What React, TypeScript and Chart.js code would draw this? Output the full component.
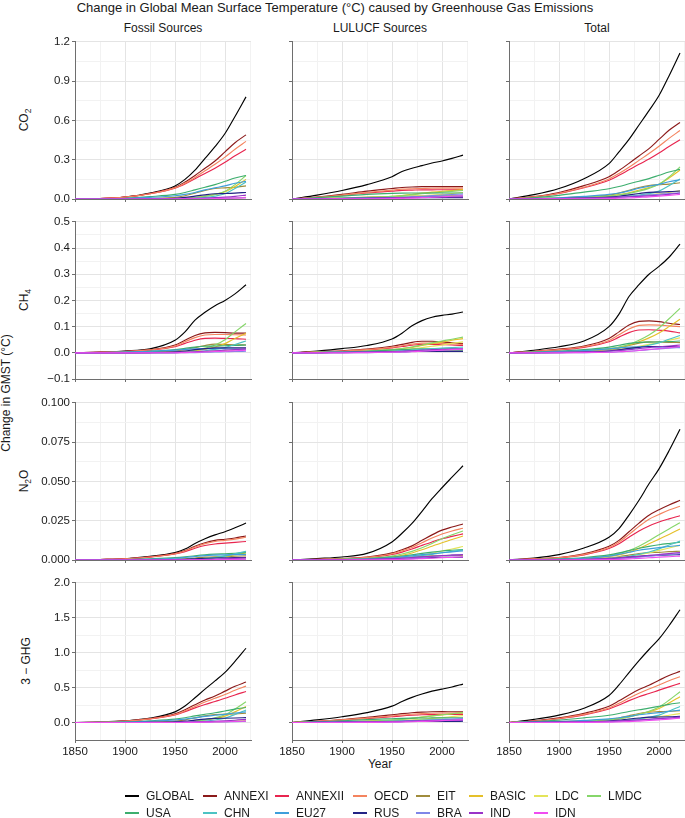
import React, { useEffect, useRef } from 'react';
import { Chart, registerables } from 'chart.js';

Chart.register(...registerables);

const FONT = '"Liberation Sans", Arial, Helvetica, sans-serif';

const YEARS = [1850, 1875, 1900, 1925, 1950, 1960, 1970, 1980, 1990, 2000, 2010, 2021];

const SERIES = ['GLOBAL', 'ANNEXI', 'ANNEXII', 'OECD', 'EIT', 'BASIC', 'LDC', 'LMDC', 'USA', 'CHN', 'EU27', 'RUS', 'BRA', 'IND', 'IDN'];
const COLORS = ['#000000', '#8B1A1A', '#E8254F', '#F4845F', '#A08C3C', '#E5C02A', '#E4E45A', '#86D66A', '#3DAE6E', '#4CC3C3', '#3E9FDB', '#232385', '#7F86E8', '#9A33C8', '#F04CF0'];

const COLUMN_TITLES = ['Fossil Sources', 'LULUCF Sources', 'Total'];

const X_MAJOR = [1850, 1900, 1950, 2000];
const X_MINOR = [1875, 1925, 1975, 2025];

const CO2_Y_MAJOR = [0, 0.3, 0.6, 0.9, 1.2];
const CO2_Y_MINOR = [0.15, 0.45, 0.75, 1.05];
const CH4_Y_MAJOR = [-0.1, 0, 0.1, 0.2, 0.3, 0.4, 0.5];
const CH4_Y_MINOR = [-0.05, 0.05, 0.15, 0.25, 0.35, 0.45];
const N2O_Y_MAJOR = [0, 0.025, 0.05, 0.075, 0.1];
const N2O_Y_MINOR = [0.0125, 0.0375, 0.0625, 0.0875];
const GHG_Y_MAJOR = [0, 0.5, 1, 1.5, 2];
const GHG_Y_MINOR = [-0.25, 0.25, 0.75, 1.25, 1.75];

// rows follow SERIES order
const CO2_FOSSIL = [
  [0, .003, .015, .045, .10, .15, .22, .31, .40, .50, .63, .78],
  [0, .003, .015, .042, .09, .13, .18, .235, .29, .36, .43, .49],
  [0, .003, .014, .04, .083, .115, .155, .195, .235, .28, .33, .38],
  [0, .003, .014, .04, .085, .12, .165, .215, .265, .32, .38, .44],
  [0, 0, .001, .004, .012, .025, .045, .065, .08, .085, .09, .10],
  [0, 0, 0, .001, .003, .006, .012, .022, .035, .055, .095, .15],
  [0, 0, 0, 0, 0, 0, .001, .002, .003, .005, .008, .012],
  [0, 0, 0, .001, .002, .005, .01, .02, .035, .06, .11, .18],
  [0, .001, .006, .018, .035, .05, .07, .09, .11, .135, .16, .18],
  [0, 0, 0, 0, .001, .003, .006, .012, .022, .04, .08, .13],
  [0, .001, .004, .012, .025, .035, .05, .07, .085, .10, .12, .135],
  [0, 0, 0, .002, .006, .012, .022, .032, .04, .042, .045, .05],
  [0, 0, 0, 0, .001, .001, .002, .003, .005, .006, .008, .01],
  [0, 0, 0, .001, .002, .003, .005, .007, .01, .014, .02, .03],
  [0, 0, 0, 0, 0, .001, .001, .002, .003, .005, .007, .01],
];
const CO2_LULUCF = [
  [0, .03, .065, .11, .17, .21, .235, .255, .275, .29, .31, .335],
  [0, .015, .035, .06, .08, .088, .092, .094, .095, .095, .095, .095],
  [0, .012, .028, .046, .06, .066, .068, .07, .07, .071, .071, .072],
  [0, .013, .03, .05, .068, .075, .078, .08, .082, .083, .083, .083],
  [0, .003, .007, .012, .018, .02, .022, .023, .023, .024, .024, .024],
  [0, .004, .008, .013, .02, .027, .035, .045, .052, .058, .065, .072],
  [0, .002, .004, .007, .011, .015, .02, .025, .03, .035, .042, .05],
  [0, .004, .008, .013, .02, .026, .033, .04, .046, .052, .058, .065],
  [0, .01, .022, .035, .043, .045, .046, .046, .046, .046, .046, .046],
  [0, .002, .005, .008, .012, .014, .016, .018, .019, .02, .021, .022],
  [0, .002, .005, .008, .01, .011, .012, .012, .012, .012, .012, .012],
  [0, .002, .004, .006, .008, .009, .01, .01, .011, .011, .011, .011],
  [0, .001, .002, .004, .007, .011, .016, .021, .026, .03, .034, .037],
  [0, .002, .004, .006, .009, .011, .012, .013, .014, .015, .015, .016],
  [0, 0, .001, .002, .003, .005, .007, .01, .013, .017, .021, .025],
];
const CO2_TOTAL = [
  [0, .033, .08, .155, .27, .36, .455, .565, .675, .79, .94, 1.115],
  [0, .018, .05, .102, .17, .218, .272, .329, .385, .455, .525, .585],
  [0, .015, .042, .086, .143, .181, .223, .265, .305, .351, .401, .452],
  [0, .016, .044, .09, .153, .195, .243, .295, .347, .403, .463, .523],
  [0, .003, .008, .016, .03, .045, .067, .088, .103, .109, .114, .124],
  [0, .004, .008, .014, .023, .033, .047, .067, .087, .113, .16, .222],
  [0, .002, .004, .007, .011, .015, .021, .027, .033, .04, .05, .062],
  [0, .004, .008, .014, .022, .031, .043, .06, .081, .112, .168, .245],
  [0, .011, .028, .053, .078, .095, .116, .136, .156, .181, .206, .226],
  [0, .002, .005, .008, .013, .017, .022, .03, .041, .06, .101, .152],
  [0, .003, .009, .02, .035, .046, .062, .082, .097, .112, .132, .147],
  [0, .002, .004, .008, .014, .021, .032, .042, .051, .053, .056, .061],
  [0, .001, .002, .004, .008, .012, .018, .024, .031, .036, .042, .047],
  [0, .002, .004, .007, .011, .014, .017, .02, .024, .029, .035, .046],
  [0, 0, .001, .002, .003, .006, .008, .012, .016, .022, .028, .035],
];

const CH4_FOSSIL = [
  [0, .003, .007, .015, .048, .08, .125, .155, .18, .2, .225, .26],
  [0, .002, .006, .012, .03, .048, .066, .076, .078, .077, .075, .075],
  [0, .002, .005, .01, .023, .036, .048, .055, .056, .055, .054, .052],
  [0, .002, .005, .011, .026, .042, .058, .068, .07, .07, .069, .068],
  [0, 0, .001, .003, .007, .012, .02, .028, .033, .032, .031, .03],
  [0, 0, 0, .001, .003, .005, .008, .014, .022, .035, .055, .075],
  [0, 0, 0, 0, .001, .002, .003, .005, .007, .009, .012, .015],
  [0, 0, .001, .002, .004, .006, .01, .018, .03, .05, .08, .112],
  [0, .001, .003, .006, .012, .017, .022, .025, .026, .027, .028, .03],
  [0, 0, 0, 0, .001, .002, .004, .008, .013, .02, .032, .045],
  [0, .001, .003, .006, .01, .013, .015, .016, .016, .015, .014, .013],
  [0, 0, 0, .001, .004, .007, .012, .016, .019, .019, .019, .019],
  [0, 0, 0, 0, 0, .001, .001, .002, .003, .004, .005, .006],
  [0, 0, 0, .001, .002, .003, .004, .006, .008, .01, .012, .015],
  [0, 0, 0, 0, 0, .001, .002, .003, .005, .006, .008, .01],
];
const CH4_LULUCF = [
  [0, .007, .016, .028, .053, .075, .103, .123, .136, .143, .148, .156],
  [0, .004, .008, .014, .025, .032, .04, .044, .044, .042, .038, .035],
  [0, .003, .006, .011, .019, .024, .029, .032, .032, .031, .03, .028],
  [0, .003, .007, .012, .021, .027, .033, .037, .037, .036, .034, .032],
  [0, .001, .002, .003, .005, .006, .008, .009, .009, .009, .009, .009],
  [0, .002, .004, .007, .012, .016, .021, .028, .035, .041, .048, .054],
  [0, .002, .003, .005, .008, .011, .015, .02, .025, .03, .036, .042],
  [0, .002, .004, .007, .012, .016, .022, .03, .038, .045, .052, .06],
  [0, .002, .004, .006, .01, .012, .014, .015, .015, .015, .015, .015],
  [0, .001, .002, .004, .006, .008, .01, .013, .016, .018, .02, .022],
  [0, .001, .002, .003, .005, .006, .007, .007, .007, .007, .007, .007],
  [0, 0, .001, .002, .003, .004, .005, .005, .005, .005, .005, .005],
  [0, 0, .001, .001, .002, .003, .005, .007, .009, .011, .013, .015],
  [0, .001, .002, .003, .005, .006, .008, .01, .012, .013, .014, .015],
  [0, 0, 0, .001, .002, .003, .004, .006, .008, .01, .012, .014],
];
const CH4_TOTAL = [
  [0, .01, .023, .045, .1, .148, .215, .26, .3, .33, .365, .415],
  [0, .006, .014, .026, .055, .08, .106, .12, .122, .119, .113, .108],
  [0, .005, .011, .021, .042, .06, .077, .087, .088, .086, .083, .076],
  [0, .005, .012, .023, .047, .069, .091, .105, .107, .106, .103, .1],
  [0, .001, .003, .006, .012, .018, .028, .037, .042, .041, .04, .039],
  [0, .002, .004, .008, .015, .021, .03, .042, .057, .076, .1, .128],
  [0, .002, .003, .005, .009, .013, .018, .025, .032, .039, .048, .057],
  [0, .002, .005, .009, .016, .022, .032, .048, .068, .095, .13, .17],
  [0, .003, .007, .012, .022, .029, .036, .04, .041, .042, .043, .045],
  [0, .001, .002, .004, .007, .01, .014, .021, .029, .038, .052, .066],
  [0, .002, .005, .009, .015, .019, .022, .023, .023, .022, .021, .02],
  [0, 0, .001, .003, .007, .011, .017, .021, .024, .024, .024, .024],
  [0, 0, .001, .001, .002, .004, .006, .009, .012, .015, .018, .021],
  [0, .001, .002, .004, .007, .009, .012, .016, .02, .023, .026, .03],
  [0, 0, 0, .001, .002, .004, .006, .009, .013, .016, .02, .024],
];

const N2O_FOSSIL = [
  [0, .0003, .0008, .0023, .0048, .007, .0105, .0135, .016, .018, .0205, .0235],
  [0, .0003, .0007, .002, .0042, .006, .0088, .011, .0125, .0132, .014, .0153],
  [0, .0003, .0007, .0018, .0038, .0053, .0075, .0092, .0102, .0107, .0112, .0118],
  [0, .0003, .0007, .0019, .004, .0057, .0083, .0104, .0118, .0125, .0133, .0145],
  [0, 0, .0001, .0002, .0005, .0008, .0013, .0018, .0021, .0022, .0024, .0026],
  [0, 0, 0, .0001, .0002, .0003, .0005, .0009, .0015, .0023, .0033, .0045],
  [0, 0, 0, 0, 0, .0001, .0001, .0002, .0003, .0004, .0006, .0008],
  [0, 0, 0, .0001, .0002, .0003, .0006, .001, .0017, .0026, .0038, .005],
  [0, .0001, .0003, .0008, .0015, .002, .0027, .0033, .0037, .004, .0043, .0046],
  [0, 0, 0, 0, .0001, .0002, .0004, .0008, .0015, .0025, .004, .0055],
  [0, .0001, .0002, .0005, .0011, .0016, .0022, .0028, .0031, .0033, .0034, .0035],
  [0, 0, 0, .0001, .0003, .0005, .0008, .0011, .0013, .0014, .0015, .0016],
  [0, 0, 0, 0, 0, 0, .0001, .0001, .0002, .0003, .0004, .0005],
  [0, 0, 0, 0, .0001, .0001, .0002, .0003, .0005, .0007, .001, .0013],
  [0, 0, 0, 0, 0, 0, .0001, .0001, .0002, .0003, .0004, .0005],
];
const N2O_LULUCF = [
  [0, .0009, .0019, .0042, .0115, .017, .0233, .031, .039, .046, .0527, .06],
  [0, .0004, .0009, .0019, .0045, .0065, .009, .0125, .016, .019, .021, .0229],
  [0, .0003, .0007, .0015, .0035, .005, .007, .0093, .0115, .0135, .015, .0166],
  [0, .0004, .0008, .0017, .004, .0058, .008, .011, .014, .0166, .0185, .0202],
  [0, .0001, .0002, .0004, .0009, .0013, .0018, .0023, .0026, .0027, .0029, .003],
  [0, .0002, .0004, .0009, .002, .003, .0045, .0065, .0088, .011, .013, .0153],
  [0, .0001, .0002, .0005, .0011, .0016, .0023, .0032, .0043, .0057, .007, .0086],
  [0, .0002, .0005, .001, .0025, .0038, .0055, .0078, .0105, .0135, .016, .0185],
  [0, .0002, .0004, .0008, .0018, .0025, .0033, .0042, .005, .0057, .0062, .0067],
  [0, .0001, .0002, .0004, .0009, .0014, .002, .0028, .0036, .0046, .0055, .0064],
  [0, .0001, .0003, .0006, .0014, .002, .0027, .0034, .004, .0046, .0052, .0058],
  [0, 0, .0001, .0002, .0005, .0007, .001, .0013, .0015, .0016, .0017, .0018],
  [0, 0, .0001, .0002, .0005, .0008, .0012, .0017, .0022, .0027, .0031, .0035],
  [0, .0001, .0002, .0004, .0009, .0012, .0016, .002, .0024, .0028, .0031, .0034],
  [0, 0, 0, .0001, .0002, .0004, .0006, .0009, .0012, .0015, .0017, .002],
];
const N2O_TOTAL = [
  [0, .0012, .0034, .0076, .0145, .02, .0286, .038, .0485, .058, .0695, .0832],
  [0, .0007, .0016, .004, .0087, .0125, .018, .0235, .0285, .032, .035, .038],
  [0, .0006, .0014, .0033, .0073, .0103, .0145, .0185, .0217, .0242, .0262, .0282],
  [0, .0007, .0015, .0036, .008, .0115, .0163, .0214, .026, .029, .0318, .0342],
  [0, .0001, .0003, .0006, .0014, .0021, .0031, .0041, .0047, .0049, .0053, .0056],
  [0, .0002, .0004, .001, .0022, .0033, .005, .0074, .0103, .0133, .0163, .0198],
  [0, .0001, .0002, .0005, .0011, .0017, .0024, .0034, .0046, .0061, .0076, .0094],
  [0, .0002, .0005, .0011, .0027, .0041, .006, .0088, .0122, .0161, .0198, .0237],
  [0, .0003, .0007, .0016, .0033, .0045, .006, .0075, .0087, .0097, .0105, .0113],
  [0, .0001, .0002, .0004, .001, .0016, .0024, .0036, .0051, .0071, .0095, .012],
  [0, .0002, .0005, .0011, .0025, .0036, .0049, .0062, .0071, .0079, .0086, .0093],
  [0, 0, .0001, .0003, .0008, .0012, .0018, .0024, .0028, .003, .0032, .0034],
  [0, 0, .0001, .0002, .0005, .0008, .0013, .0018, .0024, .003, .0035, .004],
  [0, .0001, .0002, .0004, .001, .0013, .0018, .0023, .0029, .0035, .0041, .0047],
  [0, 0, 0, .0001, .0002, .0004, .0007, .001, .0014, .0018, .0021, .0025],
];

const GHG_FOSSIL = [
  [0, .007, .024, .063, .153, .237, .355, .478, .596, .718, .876, 1.064],
  [0, .005, .022, .056, .124, .184, .255, .322, .38, .45, .519, .58],
  [0, .005, .02, .051, .11, .156, .21, .259, .301, .347, .395, .444],
  [0, .005, .02, .053, .115, .168, .231, .293, .347, .402, .462, .522],
  [0, 0, .002, .007, .02, .038, .066, .095, .115, .12, .123, .133],
  [0, 0, 0, .002, .006, .011, .02, .037, .058, .092, .153, .23],
  [0, 0, 0, 0, .001, .002, .004, .007, .01, .014, .02, .028],
  [0, 0, .001, .003, .006, .011, .021, .039, .067, .113, .194, .297],
  [0, .002, .009, .025, .049, .069, .095, .118, .14, .166, .192, .215],
  [0, 0, 0, 0, .002, .005, .01, .021, .037, .063, .116, .181],
  [0, .002, .007, .019, .036, .05, .067, .089, .104, .118, .137, .152],
  [0, 0, 0, .003, .01, .02, .035, .049, .06, .062, .065, .071],
  [0, 0, 0, 0, .001, .002, .003, .005, .008, .01, .013, .016],
  [0, 0, 0, .002, .004, .006, .009, .013, .019, .025, .033, .046],
  [0, 0, 0, 0, 0, .002, .003, .005, .008, .011, .015, .021],
];
const GHG_LULUCF = [
  [0, .038, .083, .142, .235, .302, .361, .409, .45, .479, .51, .551],
  [0, .019, .044, .076, .11, .127, .141, .15, .155, .156, .154, .153],
  [0, .015, .035, .058, .083, .095, .104, .111, .114, .117, .116, .117],
  [0, .016, .038, .064, .093, .108, .119, .128, .133, .136, .136, .135],
  [0, .004, .009, .015, .024, .027, .032, .034, .035, .036, .036, .036],
  [0, .006, .012, .021, .034, .046, .06, .08, .096, .11, .126, .141],
  [0, .004, .007, .013, .02, .028, .037, .048, .059, .071, .085, .1],
  [0, .006, .013, .021, .035, .046, .061, .078, .095, .111, .126, .143],
  [0, .012, .026, .042, .055, .06, .063, .065, .066, .067, .068, .068],
  [0, .003, .007, .012, .019, .023, .028, .034, .039, .043, .047, .05],
  [0, .003, .007, .012, .016, .019, .021, .022, .023, .024, .024, .025],
  [0, .002, .005, .008, .012, .014, .016, .016, .017, .017, .017, .018],
  [0, .001, .003, .005, .01, .015, .022, .029, .037, .044, .05, .056],
  [0, .003, .006, .009, .015, .018, .022, .025, .028, .031, .032, .035],
  [0, 0, .001, .003, .005, .008, .011, .016, .021, .027, .033, .041],
];
const GHG_TOTAL = [
  [0, .045, .107, .205, .388, .539, .716, .887, 1.046, 1.197, 1.386, 1.615],
  [0, .024, .066, .132, .234, .311, .396, .472, .535, .606, .673, .733],
  [0, .02, .055, .109, .193, .251, .314, .37, .415, .464, .511, .561],
  [0, .021, .058, .117, .208, .276, .35, .421, .48, .538, .598, .657],
  [0, .004, .011, .022, .044, .065, .098, .129, .15, .156, .159, .169],
  [0, .006, .012, .023, .04, .057, .08, .117, .154, .202, .279, .371],
  [0, .004, .007, .013, .021, .03, .041, .055, .069, .085, .105, .128],
  [0, .006, .014, .024, .041, .057, .082, .117, .162, .224, .32, .44],
  [0, .014, .035, .067, .104, .129, .158, .183, .206, .233, .26, .283],
  [0, .003, .007, .012, .021, .028, .038, .055, .076, .106, .163, .231],
  [0, .005, .014, .031, .052, .069, .088, .111, .127, .142, .161, .177],
  [0, .002, .005, .011, .022, .034, .051, .065, .077, .079, .082, .089],
  [0, .001, .003, .005, .011, .017, .025, .034, .045, .054, .063, .072],
  [0, .003, .006, .011, .019, .024, .031, .038, .047, .056, .065, .081],
  [0, 0, .001, .003, .005, .01, .014, .021, .029, .038, .048, .062],
];

// layout geometry (pixels in page)
const COL_LEFT = [75, 292, 509];
const ROW_TOP = [41, 221, 402, 582];
const PANEL_W = 176;
const PANEL_H = 158;
const Y_AXIS_W = 50;
const PAD_TOP = 8;
const PAD_RIGHT = 6;
const X_AXIS_H = 22;
const CANVAS_W = Y_AXIS_W + PANEL_W + PAD_RIGHT;
const CANVAS_H = PAD_TOP + PANEL_H + X_AXIS_H;

const fmtMinus = (s: string) => s.replace('-', '\u2212');

const ROWS = [
  { min: 0, max: 1.2, major: CO2_Y_MAJOR, minor: CO2_Y_MINOR, dec: 1, data: [CO2_FOSSIL, CO2_LULUCF, CO2_TOTAL] },
  { min: -0.1, max: 0.5, major: CH4_Y_MAJOR, minor: CH4_Y_MINOR, dec: 1, data: [CH4_FOSSIL, CH4_LULUCF, CH4_TOTAL] },
  { min: 0, max: 0.1, major: N2O_Y_MAJOR, minor: N2O_Y_MINOR, dec: 3, data: [N2O_FOSSIL, N2O_LULUCF, N2O_TOTAL] },
  { min: -0.25, max: 2.0, major: GHG_Y_MAJOR, minor: GHG_Y_MINOR, dec: 1, data: [GHG_FOSSIL, GHG_LULUCF, GHG_TOTAL] },
];

const near = (arr: number[], v: number) => arr.some((a) => Math.abs(a - v) < 1e-9);

const MAJOR_GRID = '#e4e4e4';
const MINOR_GRID = '#f2f2f2';
const AXIS_COLOR = '#6e6e6e';
const TEXT_COLOR = '#1a1a1a';

function Panel({ row, col }: { row: number; col: number }) {
  const ref = useRef<HTMLCanvasElement | null>(null);
  useEffect(() => {
    const cfg = ROWS[row];
    const values = cfg.data[col];
    const yTicks = [...cfg.major, ...cfg.minor].sort((a, b) => a - b);
    const xTicks = [...X_MAJOR, ...X_MINOR].sort((a, b) => a - b);
    const chart = new Chart(ref.current as HTMLCanvasElement, {
      type: 'line',
      data: {
        datasets: SERIES.map((name, i) => ({
          label: name,
          data: YEARS.map((yr, j) => ({ x: yr, y: values[i][j] })),
          borderColor: COLORS[i],
          backgroundColor: COLORS[i],
          borderWidth: 1.15,
          pointRadius: 0,
          fill: false,
          cubicInterpolationMode: 'monotone' as const,
          order: -i,
        })),
      },
      options: {
        animation: false,
        responsive: false,
        events: [],
        layout: { padding: { top: PAD_TOP, right: PAD_RIGHT, left: 0, bottom: 0 } },
        plugins: { legend: { display: false }, tooltip: { enabled: false }, title: { display: false } },
        scales: {
          x: {
            type: 'linear',
            min: 1850,
            max: 2026,
            afterBuildTicks: (s: any) => {
              s.ticks = xTicks.map((v) => ({ value: v }));
            },
            afterFit: (s: any) => {
              s.height = X_AXIS_H;
            },
            grid: {
              color: (c: any) => (c.tick && near(X_MAJOR, c.tick.value) ? MAJOR_GRID : MINOR_GRID),
              tickColor: (c: any) => (c.tick && near(X_MAJOR, c.tick.value) ? AXIS_COLOR : 'rgba(0,0,0,0)'),
              tickLength: 3,
              lineWidth: 1,
              drawTicks: true,
            },
            border: { display: true, color: AXIS_COLOR, width: 1 },
            ticks: {
              autoSkip: false,
              maxRotation: 0,
              minRotation: 0,
              padding: 2,
              color: TEXT_COLOR,
              font: { family: FONT, size: 11.5 },
              callback: (v: any) => (row === 3 && near(X_MAJOR, Number(v)) ? String(v) : ''),
            },
          },
          y: {
            type: 'linear',
            min: cfg.min,
            max: cfg.max,
            afterBuildTicks: (s: any) => {
              s.ticks = yTicks.map((v) => ({ value: v }));
            },
            afterFit: (s: any) => {
              s.width = Y_AXIS_W;
            },
            grid: {
              color: (c: any) => (c.tick && near(cfg.major, c.tick.value) ? MAJOR_GRID : MINOR_GRID),
              tickColor: (c: any) => (c.tick && near(cfg.major, c.tick.value) ? AXIS_COLOR : 'rgba(0,0,0,0)'),
              tickLength: 3,
              lineWidth: 1,
              drawTicks: true,
            },
            border: { display: true, color: AXIS_COLOR, width: 1 },
            ticks: {
              autoSkip: false,
              padding: 2,
              color: TEXT_COLOR,
              font: { family: FONT, size: 11.5 },
              callback: (v: any) => (col === 0 && near(cfg.major, Number(v)) ? fmtMinus(Number(v).toFixed(cfg.dec)) : ''),
            },
          },
        },
      },
    } as any);
    return () => chart.destroy();
  }, [row, col]);
  return (
    <canvas
      ref={ref}
      width={CANVAS_W}
      height={CANVAS_H}
      style={{
        position: 'absolute',
        left: COL_LEFT[col] - Y_AXIS_W,
        top: ROW_TOP[row] - PAD_TOP,
        width: CANVAS_W,
        height: CANVAS_H,
      }}
    />
  );
}

const ROW_LABELS: React.ReactNode[] = [
  <span>CO<sub style={{ fontSize: '0.7em' }}>2</sub></span>,
  <span>CH<sub style={{ fontSize: '0.7em' }}>4</sub></span>,
  <span>N<sub style={{ fontSize: '0.7em' }}>2</sub>O</span>,
  <span>3 − GHG</span>,
];

const LEGEND_X = [125, 203, 275, 353, 416, 469, 534, 587];
const LEGEND_Y = [796, 813];

export default function App() {
  const textBase: React.CSSProperties = {
    position: 'absolute',
    fontFamily: FONT,
    color: TEXT_COLOR,
    whiteSpace: 'nowrap',
  };
  return (
    <div
      style={{
        position: 'absolute',
        left: 0,
        top: 0,
        width: 685,
        height: 818,
        overflow: 'hidden',
        background: '#ffffff',
      }}
    >
      <div style={{ ...textBase, left: 35, width: 600, top: 0, fontSize: 13, lineHeight: '15px', textAlign: 'center' }}>
        Change in Global Mean Surface Temperature (°C) caused by Greenhouse Gas Emissions
      </div>
      {COLUMN_TITLES.map((t, c) => (
        <div
          key={t}
          style={{ ...textBase, left: COL_LEFT[c] + PANEL_W / 2 - 100, width: 200, top: 21, fontSize: 12, lineHeight: '14px', textAlign: 'center' }}
        >
          {t}
        </div>
      ))}
      {ROW_LABELS.map((lab, r) => (
        <div
          key={r}
          style={{
            ...textBase,
            left: 26,
            top: ROW_TOP[r] + PANEL_H / 2,
            fontSize: 12,
            lineHeight: '14px',
            transform: 'translate(-50%, -50%) rotate(-90deg)',
          }}
        >
          {lab}
        </div>
      ))}
      <div
        style={{
          ...textBase,
          left: 6,
          top: 393,
          fontSize: 12,
          lineHeight: '14px',
          transform: 'translate(-50%, -50%) rotate(-90deg)',
        }}
      >
        Change in GMST (°C)
      </div>
      <div style={{ ...textBase, left: COL_LEFT[1] + PANEL_W / 2 - 50, width: 100, top: 757, fontSize: 12, lineHeight: '14px', textAlign: 'center' }}>
        Year
      </div>
      {[0, 1, 2, 3].map((r) => [0, 1, 2].map((c) => <Panel key={`${r}-${c}`} row={r} col={c} />))}
      {SERIES.map((name, i) => {
        const lr = i < 8 ? 0 : 1;
        const lc = i < 8 ? i : i - 8;
        const x = LEGEND_X[lc];
        const y = LEGEND_Y[lr];
        return (
          <React.Fragment key={name}>
            <div style={{ position: 'absolute', left: x, top: y - 1, width: 14, height: 2, background: COLORS[i] }} />
            <div style={{ ...textBase, left: x + 21, top: y - 7, fontSize: 12, lineHeight: '14px' }}>{name}</div>
          </React.Fragment>
        );
      })}
    </div>
  );
}
